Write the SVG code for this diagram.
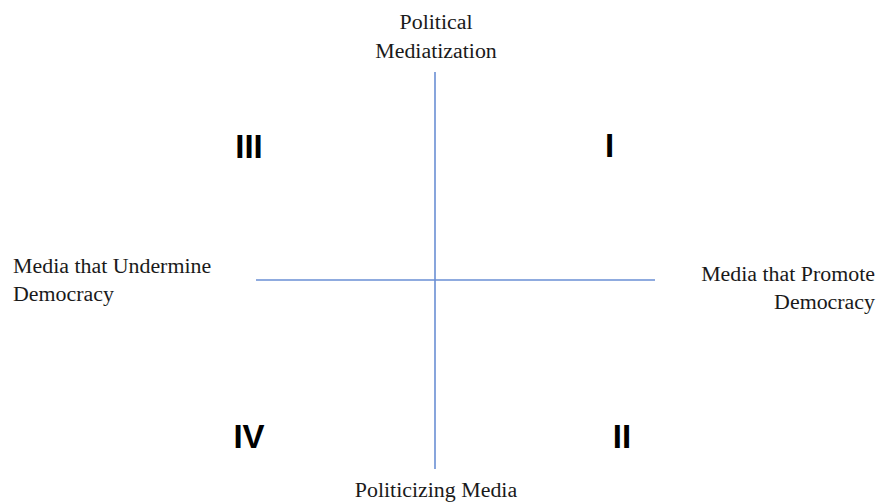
<svg xmlns="http://www.w3.org/2000/svg" width="876" height="502" viewBox="0 0 876 502">
<style>
.lbl{font-family:"Liberation Serif","Times New Roman",serif;font-size:21.9px;fill:#1a1a1a}
.num{font-family:"Liberation Sans",Arial,sans-serif;font-size:33px;font-weight:bold;fill:#000;text-anchor:middle}
.axis{stroke:#6a8fd4;stroke-width:1.6;fill:none}
</style>
<rect width="876" height="502" fill="#fff"/>
<g id="connectors">
<line class="axis" x1="435" y1="72" x2="435" y2="469"/>
<line class="axis" x1="256" y1="280" x2="655" y2="280"/>
</g>
<g id="top-label"><text class="lbl" text-anchor="middle"><tspan x="436" y="29">Political</tspan><tspan x="436" y="58">Mediatization</tspan></text></g>
<g id="bottom-label"><text class="lbl" x="436" y="497" text-anchor="middle">Politicizing Media</text></g>
<g id="left-label"><text class="lbl"><tspan x="13" y="273">Media that Undermine</tspan><tspan x="13" y="301">Democracy</tspan></text></g>
<g id="right-label"><text class="lbl" text-anchor="end"><tspan x="875" y="281">Media that Promote</tspan><tspan x="875" y="309">Democracy</tspan></text></g>
<g id="q3"><text class="num" x="249" y="158">III</text></g>
<g id="q1"><text class="num" x="609.5" y="157">I</text></g>
<g id="q4"><text class="num" x="249" y="448">IV</text></g>
<g id="q2"><text class="num" x="622" y="448">II</text></g>
</svg>
